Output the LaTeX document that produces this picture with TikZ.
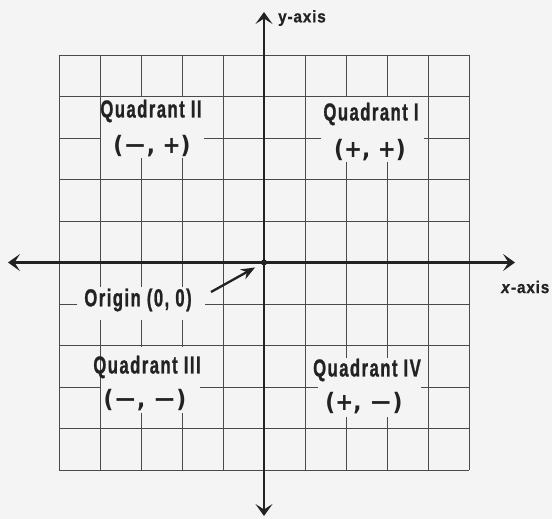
\documentclass[tikz,border=0pt]{standalone}
\usepackage{fontspec}
\setmainfont{Liberation Sans}
\newfontfamily\lblfont[FakeStretch=0.68,LetterSpace=6,FakeBold=1]{Liberation Sans}
\newfontfamily\axfont[FakeStretch=0.9,LetterSpace=5,FakeBold=0.8]{Liberation Sans}
\newfontfamily\sgnfont[FakeStretch=0.9]{DejaVu Sans}
\newcommand{\mns}{\scalebox{1.3}[1]{−}}
\usetikzlibrary{arrows.meta}
\definecolor{ink}{HTML}{222222}
\definecolor{gridc}{HTML}{4A4A4A}
\definecolor{paper}{HTML}{F4F4F4}
\tikzset{
  gridline/.style={draw=gridc, line width=0.9pt},
  axisline/.style={draw=ink, line width=2.4pt, {Stealth[length=12pt,width=17pt,inset=5.5pt]}-{Stealth[length=12pt,width=17pt,inset=5.5pt]}},
  whitebox/.style={fill=paper, draw=none, inner sep=0pt},
  lbl/.style={text=ink, font=\lblfont\bfseries\fontsize{24.5}{26}\selectfont, inner sep=0pt},
  sgn/.style={text=ink, font=\sgnfont\bfseries\fontsize{24}{26}\selectfont, inner sep=0pt},
  axlbl/.style={text=ink, font=\axfont\bfseries\fontsize{17}{19}\selectfont, inner sep=0pt},
  dotstyle/.style={circle, fill=ink, inner sep=0pt, minimum size=6pt},
  ptr/.style={draw=ink, line width=2.3pt, -{Stealth[length=14pt,width=11pt]}}
}
\begin{document}
\begin{tikzpicture}[x=1pt,y=-1pt]
\fill[paper] (0,0) rectangle (552,519);
\useasboundingbox (0,0) rectangle (552,519);
% grid
\foreach \i in {0,...,10} {
  \draw[gridline] ({59+41*\i},55) -- ({59+41*\i},470);
  \draw[gridline] (59,{55+41.5*\i}) -- (469,{55+41.5*\i});
}
% white patches behind labels
\node[whitebox, minimum width=103pt, minimum height=64.5pt] (q1box) at (372.5,129.75) {};
\node[whitebox, minimum width=103pt, minimum height=60.5pt] (q2box) at (152.5,127.75) {};
\node[whitebox, minimum width=99pt, minimum height=66.5pt] (q3box) at (150.5,379.75) {};
\node[whitebox, minimum width=103pt, minimum height=59pt] (q4box) at (369.5,387.5) {};
\node[whitebox, minimum width=128pt, minimum height=33pt] (obox) at (141,303.5) {};
% axes
\coordinate (yt) at (264,12);
\coordinate (yb) at (264,516);
\coordinate (xl) at (8,262.5);
\coordinate (xr) at (515,262.5);
\draw[axisline] (yb) -- (yt);
\draw[axisline] (xl) -- (xr);
\node[dotstyle] (odot) at (264,262.5) {};
% labels
\node[axlbl, anchor=west] (ylab) at (278,18) {y-axis};
\node[axlbl, anchor=west] (xlab) at (501,287) {\textit{x}-axis};
\node[lbl] (q1) at (371,114) {Quadrant I};
\node[sgn] (q1s) at (370,150) {(+, +)};
\node[lbl] (q2) at (151,111) {Quadrant II};
\node[sgn] (q2s) at (152,146) {(\mns, +)};
\node[lbl] (q3) at (147,367) {Quadrant III};
\node[sgn] (q3s) at (145,400) {(\mns, \mns)};
\node[lbl] (q4) at (367,370) {Quadrant IV};
\node[sgn] (q4s) at (364,403) {(+, \mns)};
\node[lbl] (olab) at (138,300) {Origin (0, 0)};
\coordinate (ostart) at (211,292);
\draw[ptr, shorten >=7pt] (ostart) -- (odot);
\end{tikzpicture}
\end{document}
